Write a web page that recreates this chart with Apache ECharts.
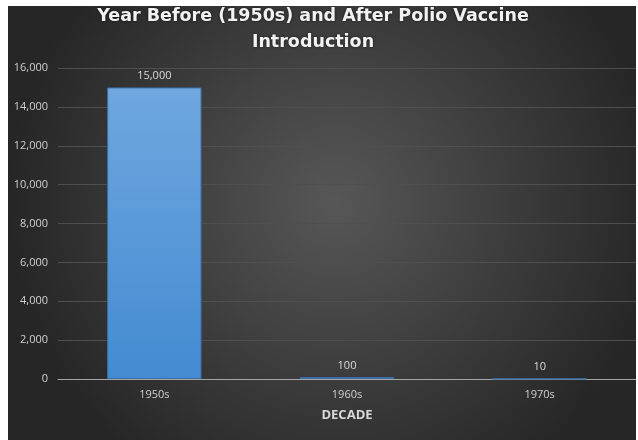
<!DOCTYPE html>
<html>
<head>
<meta charset="utf-8">
<script src="https://cdn.jsdelivr.net/npm/echarts@6/dist/echarts.min.js"></script>
<style>
  html, body { margin: 0; padding: 0; background: #ffffff; }
  #chart { position: absolute; left: 8px; top: 6px; width: 628px; height: 434px; }
</style>
</head>
<body>
<div id="chart"></div>
<script>
const decades = ['1950s', '1960s', '1970s'];
const cases = [15000, 100, 10];
const yTicks = [0, 2000, 4000, 6000, 8000, 10000, 12000, 14000, 16000];

const chart = echarts.init(document.getElementById('chart'));

chart.setOption({
  backgroundColor: {
    type: 'radial', x: 0.52, y: 0.45, r: 0.75,
    colorStops: [
      { offset: 0, color: '#575757' },
      { offset: 1, color: '#262626' }
    ]
  },
  title: {
    text: 'Year Before (1950s) and After Polio Vaccine\nIntroduction',
    left: 300, top: -8, textAlign: 'center',
    textStyle: {
      color: '#f2f2f2', fontSize: 17.5, fontWeight: 'bold',
      fontFamily: 'DejaVu Sans', lineHeight: 26,
      textShadowColor: 'rgba(0,0,0,0.6)', textShadowBlur: 3
    }
  },
  grid: { left: 50, right: 0, top: 62, bottom: 61 },
  xAxis: {
    type: 'category',
    data: decades,
    name: 'DECADE',
    nameLocation: 'middle',
    nameGap: 30,
    nameTextStyle: { color: '#d9d9d9', fontSize: 13, fontWeight: 'bold', fontFamily: 'Open Sans' },
    axisLine: { lineStyle: { color: '#a6a6a6', width: 1 } },
    axisTick: { show: false },
    axisLabel: { color: '#d0d0d0', fontSize: 11, margin: 10, fontFamily: 'Open Sans' }
  },
  yAxis: {
    type: 'value',
    min: yTicks[0],
    max: yTicks[yTicks.length - 1],
    interval: 2000,
    axisLine: { show: false },
    axisTick: { show: false },
    splitLine: { lineStyle: { color: '#4f4f4f', width: 1 } },
    axisLabel: {
      color: '#d0d0d0', fontSize: 11, margin: 10, fontFamily: 'Open Sans',
      formatter: v => v.toLocaleString('en-US')
    }
  },
  series: [{
    type: 'bar',
    data: cases,
    barWidth: '49%',
    itemStyle: {
      color: {
        type: 'linear', x: 0, y: 0, x2: 0, y2: 1,
        colorStops: [
          { offset: 0, color: '#6fa7de' },
          { offset: 1, color: '#438bd2' }
        ]
      },
      borderColor: '#3a6fa6',
      borderWidth: 1
    },
    label: {
      show: true, position: 'top', distance: 6,
      color: '#d9d9d9', fontSize: 11, fontFamily: 'Open Sans',
      formatter: p => p.value.toLocaleString('en-US')
    }
  }]
});
</script>
</body>
</html>
